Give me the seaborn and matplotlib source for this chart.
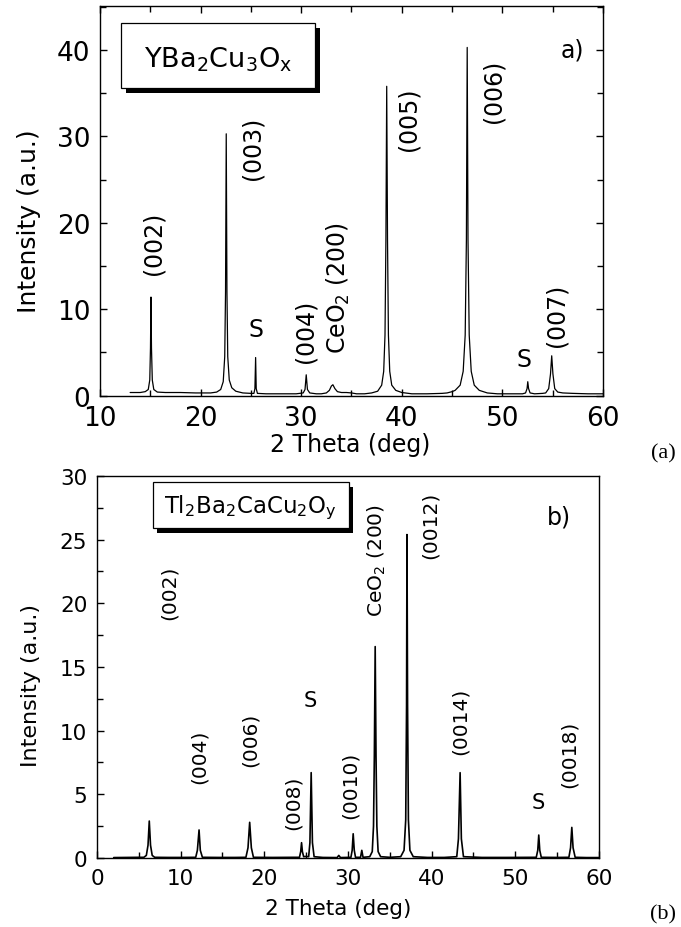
import matplotlib
matplotlib.use("Agg")
import matplotlib.pyplot as plt
import matplotlib.patches as mpatches
import matplotlib.patheffects as pe
from matplotlib.ticker import MultipleLocator
import seaborn as sns
import pandas as pd

# ---------------- data: panel (a) YBa2Cu3Ox ----------------
a_theta = [13.0, 14.0, 14.5, 14.8, 14.95, 15.02, 15.07, 15.12, 15.2, 15.35, 15.7,
           16.5, 18.0, 19.5, 21.0, 21.6, 22.0, 22.25, 22.4, 22.48, 22.55, 22.62,
           22.7, 22.85, 23.1, 23.5, 24.2, 25.0, 25.3, 25.4, 25.47, 25.53, 25.65,
           26.5, 28.0, 29.5, 30.2, 30.38, 30.5, 30.62, 30.85, 31.5, 32.0, 32.5,
           32.8, 33.0, 33.15, 33.35, 33.6, 34.0, 34.5, 35.0, 35.5, 36.3, 37.0,
           37.6, 38.0, 38.2, 38.33, 38.42, 38.5, 38.58, 38.67, 38.8, 39.0, 39.4,
           40.0, 41.0, 42.5, 44.0, 44.5, 45.0, 45.3, 45.8, 46.1, 46.3, 46.42,
           46.5, 46.58, 46.7, 46.9, 47.2, 47.7, 48.5, 49.5, 51.0, 52.0, 52.3,
           52.45, 52.52, 52.6, 52.75, 53.2, 54.0, 54.3, 54.6, 54.78, 54.9, 55.02,
           55.2, 55.5, 56.0, 57.0, 58.5, 60.0]
a_int = [0.35, 0.35, 0.45, 0.7, 1.8, 5.5, 11.4, 5.5, 1.8, 0.7, 0.4,
         0.35, 0.35, 0.3, 0.3, 0.4, 0.7, 1.6, 4.5, 12.0, 30.3, 12.0,
         4.5, 1.8, 0.9, 0.5, 0.3, 0.25, 0.25, 0.8, 4.4, 0.8, 0.25,
         0.2, 0.2, 0.2, 0.3, 0.7, 2.4, 0.7, 0.3, 0.2, 0.2, 0.3,
         0.6, 1.1, 1.25, 0.8, 0.45, 0.35, 0.35, 0.3, 0.2, 0.2, 0.3,
         0.5, 1.2, 2.8, 7.0, 18.0, 35.8, 18.0, 7.0, 2.8, 1.2, 0.6,
         0.35, 0.2, 0.2, 0.25, 0.3, 0.45, 0.6, 1.2, 2.8, 7.0, 18.0,
         40.3, 18.0, 7.0, 2.8, 1.2, 0.6, 0.3, 0.2, 0.2, 0.2, 0.3,
         0.8, 1.6, 0.8, 0.3, 0.2, 0.25, 0.3, 0.8, 2.5, 4.6, 2.5,
         0.8, 0.4, 0.3, 0.25, 0.2, 0.2]

a_labels = ["(002)", "(003)", "(004)", r"CeO$_\mathregular{2}$ (200)", "(005)", "(006)", "(007)"]
a_label_x = [15.3, 25.2, 30.4, 33.7, 40.7, 49.1, 55.4]
a_label_y = [17.7, 28.7, 7.6, 12.55, 32.1, 35.3, 9.4]
a_s_x = [25.55, 52.15]
a_s_y = [7.7, 4.2]

# ---------------- data: panel (b) Tl2Ba2CaCu2Oy ----------------
b_theta = [2.0, 3.5, 5.0, 5.6, 5.9, 6.1, 6.25, 6.4, 6.6, 6.9, 8.5, 10.0, 11.8,
           12.0, 12.2, 12.35, 12.6, 14.5, 16.5, 17.8, 18.05, 18.25, 18.45, 18.7,
           21.0, 23.5, 24.2, 24.35, 24.45, 24.55, 24.7, 25.0, 25.3, 25.45, 25.6,
           25.75, 25.95, 27.0, 28.7, 28.9, 29.1, 30.35, 30.5, 30.62, 30.75, 30.9,
           31.5, 31.65, 31.8, 32.6, 32.9, 33.05, 33.15, 33.25, 33.35, 33.45, 33.6,
           33.9, 35.0, 36.3, 36.7, 36.9, 37.0, 37.05, 37.12, 37.22, 37.4, 37.8,
           39.5, 41.5, 43.0, 43.2, 43.4, 43.55, 43.8, 46.0, 49.0, 52.5, 52.68,
           52.8, 52.92, 53.1, 55.0, 56.4, 56.6, 56.75, 56.9, 57.15, 58.5, 60.0]
b_int = [0.03, 0.04, 0.05, 0.05, 0.2, 1.0, 2.9, 1.0, 0.2, 0.05, 0.04, 0.04, 0.05,
         0.6, 2.2, 0.6, 0.05, 0.04, 0.04, 0.05, 0.8, 2.8, 0.8, 0.05,
         0.04, 0.05, 0.05, 0.5, 1.2, 0.5, 0.1, 0.12, 0.1, 1.2, 6.7,
         1.2, 0.1, 0.04, 0.03, 0.2, 0.03, 0.05, 0.6, 1.9, 0.6, 0.05,
         0.05, 0.6, 0.05, 0.1, 0.5, 2.5, 8.0, 16.6, 8.0, 2.5, 0.5,
         0.1, 0.05, 0.1, 0.6, 3.0, 12.0, 25.4, 12.0, 3.0, 0.6, 0.1,
         0.04, 0.04, 0.1, 1.5, 6.7, 1.5, 0.1, 0.04, 0.04, 0.05, 0.6,
         1.8, 0.6, 0.05, 0.04, 0.05, 0.8, 2.4, 0.8, 0.05, 0.03, 0.03]

b_labels = ["(002)", "(004)", "(006)", "(008)", "(0010)", r"CeO$_\mathregular{2}$ (200)",
            "(0012)", "(0014)", "(0018)"]
b_label_x = [8.67, 12.2, 18.3, 23.4, 30.3, 33.4, 39.8, 43.4, 56.5]
b_label_y = [20.9, 8.0, 9.35, 4.4, 5.8, 23.4, 26.2, 10.8, 8.25]
b_s_x = [25.5, 52.7]
b_s_y = [12.4, 4.4]

# ---------------- styling ----------------
sns.set_theme(style="ticks")
plt.rcParams["font.family"] = ["DejaVu Sans"]
plt.rcParams["mathtext.fontset"] = "dejavusans"
plt.rcParams["axes.linewidth"] = 1.0
plt.rcParams["axes.edgecolor"] = "black"
plt.rcParams["text.color"] = "black"
plt.rcParams["axes.labelcolor"] = "black"
plt.rcParams["xtick.color"] = "black"
plt.rcParams["ytick.color"] = "black"
plt.rcParams["xtick.labelcolor"] = "black"
plt.rcParams["ytick.labelcolor"] = "black"

fig = plt.figure(figsize=(6.81, 9.28), dpi=100)
ax1 = fig.add_axes([0.1468, 0.5727, 0.7387, 0.4198])
ax2 = fig.add_axes([0.1424, 0.0744, 0.7372, 0.4116])

df_a = pd.DataFrame({"theta": a_theta, "I": a_int})
df_b = pd.DataFrame({"theta": b_theta, "I": b_int})

sns.lineplot(data=df_a, x="theta", y="I", ax=ax1, color="black", lw=0.9)
sns.lineplot(data=df_b, x="theta", y="I", ax=ax2, color="black", lw=1.2)

# ---------- panel a ----------
ax1.set_xlim(10, 60)
ax1.set_ylim(0, 45.1)
ax1.xaxis.set_major_locator(MultipleLocator(10))
ax1.xaxis.set_minor_locator(MultipleLocator(5))
ax1.yaxis.set_major_locator(MultipleLocator(10))
ax1.yaxis.set_minor_locator(MultipleLocator(5))
ax1.tick_params(which="both", direction="in", top=True, right=True,
                labelsize=19, pad=7, width=1.0, color="black", labelcolor="black")
ax1.tick_params(which="major", length=5)
ax1.tick_params(which="minor", length=4.5)
ax1.set_xlabel("2 Theta (deg)", fontsize=17, color="black")
ax1.set_ylabel("Intensity (a.u.)", fontsize=18, color="black")
ax1.xaxis.set_label_coords(0.497, -0.094)
ax1.yaxis.set_label_coords(-0.117, 0.45)

for lab, x, y in zip(a_labels, a_label_x, a_label_y):
    ax1.text(x, y, lab, rotation=90, ha="center", va="center", fontsize=17, color="black")
for x, y in zip(a_s_x, a_s_y):
    ax1.text(x, y, "S", ha="center", va="center", fontsize=17, color="black")
ax1.text(57.0, 40.06, "a)", ha="center", va="center", fontsize=17, color="black")

box_a = mpatches.Rectangle((12.09, 35.6), 19.28, 7.5, facecolor="white",
                           edgecolor="black", lw=0.9, zorder=3)
box_a.set_path_effects([pe.SimplePatchShadow(offset=(3.6, -3.6),
                                             shadow_rgbFace="black", alpha=1.0),
                        pe.Normal()])
ax1.add_patch(box_a)
ax1.text(21.7, 39.0,
         r"YBa$_\mathregular{2}$Cu$_\mathregular{3}$O$_\mathregular{x}$",
         ha="center", va="center", fontsize=19.5, zorder=4, color="black")

# ---------- panel b ----------
ax2.set_xlim(0, 60)
ax2.set_ylim(0, 30)
ax2.xaxis.set_major_locator(MultipleLocator(10))
ax2.xaxis.set_minor_locator(MultipleLocator(5))
ax2.yaxis.set_major_locator(MultipleLocator(5))
ax2.yaxis.set_minor_locator(MultipleLocator(2.5))
ax2.tick_params(which="both", direction="in", top=False, right=False,
                labelsize=15.5, pad=7, width=1.0, color="black", labelcolor="black")
ax2.tick_params(which="major", length=5)
ax2.tick_params(which="minor", length=4.5)
ax2.set_xlabel("2 Theta (deg)", fontsize=15.5, color="black")
ax2.set_ylabel("Intensity (a.u.)", fontsize=16, color="black")
ax2.xaxis.set_label_coords(0.48, -0.105)
ax2.yaxis.set_label_coords(-0.112, 0.455)

for lab, x, y in zip(b_labels, b_label_x, b_label_y):
    ax2.text(x, y, lab, rotation=90, ha="center", va="center", fontsize=14.5, color="black")
for x, y in zip(b_s_x, b_s_y):
    ax2.text(x, y, "S", ha="center", va="center", fontsize=15, color="black")
ax2.text(55.2, 26.8, "b)", ha="center", va="center", fontsize=17, color="black")

box_b = mpatches.Rectangle((6.65, 25.9), 23.45, 3.6, facecolor="white",
                           edgecolor="black", lw=0.9, zorder=3)
box_b.set_path_effects([pe.SimplePatchShadow(offset=(3.2, -3.2),
                                             shadow_rgbFace="black", alpha=1.0),
                        pe.Normal()])
ax2.add_patch(box_b)
ax2.text(18.4, 27.6,
         r"Tl$_\mathregular{2}$Ba$_\mathregular{2}$CaCu$_\mathregular{2}$O$_\mathregular{y}$",
         ha="center", va="center", fontsize=16.5, zorder=4, color="black")

fig.text(0.9736, 0.511, "(a)", ha="center", va="center", fontsize=16,
         family=["Liberation Serif", "DejaVu Serif"], color="black")
fig.text(0.9736, 0.014, "(b)", ha="center", va="center", fontsize=16,
         family=["Liberation Serif", "DejaVu Serif"], color="black")

fig.savefig("out.png", dpi=100)
